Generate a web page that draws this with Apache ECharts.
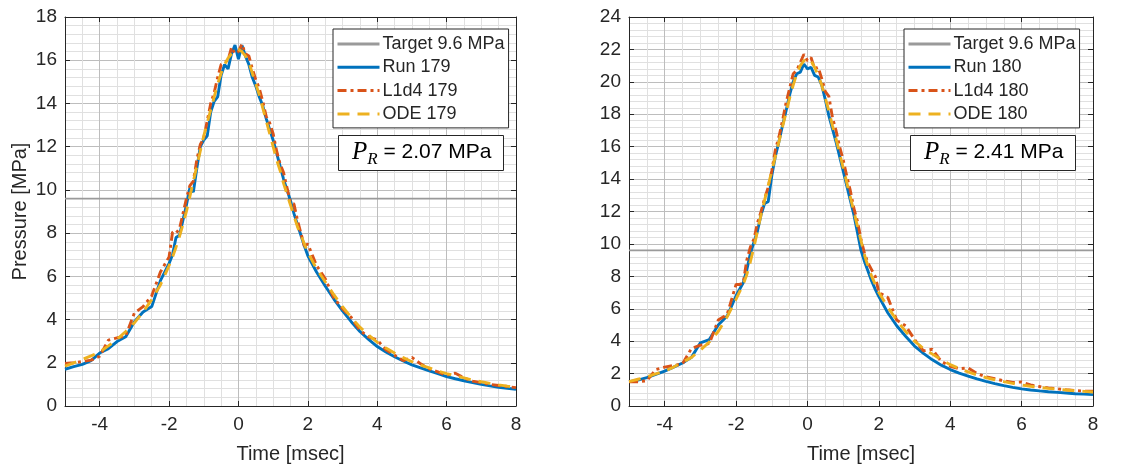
<!DOCTYPE html>
<html>
<head>
<meta charset="utf-8">
<script src="https://cdn.jsdelivr.net/npm/echarts@6/dist/echarts.min.js"></script>
<style>
  html, body { margin: 0; padding: 0; background: #ffffff; }
  #chart { width: 1146px; height: 472px; }
</style>
</head>
<body>
<div id="chart"></div>
<script>
// Sample times (msec) shared by both runs
const timeMs = [
  -5, -4.75, -4.5, -4.25, -4, -3.75, -3.5, -3.25, -3, -2.75, -2.5, -2.25,
  -2, -1.9, -1.8, -1.7, -1.6, -1.5, -1.4, -1.3, -1.2, -1.1,
  -1, -0.9, -0.8, -0.7, -0.6, -0.5, -0.4, -0.3, -0.2, -0.1,
  0, 0.1, 0.2, 0.3, 0.4, 0.5, 0.6, 0.7, 0.8, 0.9,
  1, 1.1, 1.2, 1.3, 1.4, 1.5, 1.6, 1.7, 1.8, 1.9,
  2, 2.25, 2.5, 2.75, 3, 3.25, 3.5, 3.75, 4, 4.25, 4.5, 4.75,
  5, 5.25, 5.5, 5.75, 6, 6.25, 6.5, 6.75, 7, 7.25, 7.5, 7.75, 8
];

// Run 179 pressures (MPa)
const run179 = [
  1.7, 1.82, 1.93, 2.1, 2.45, 2.65, 2.98, 3.2, 3.9, 4.35, 4.6, 5.8,
  6.6, 7.0, 7.8, 7.9, 8.6, 9.3, 10.1, 9.9, 11.0, 12.0,
  12.3, 12.5, 13.6, 14.1, 14.3, 15.3, 15.8, 15.6, 16.3, 16.7,
  16.05, 16.7, 16.2, 15.8, 15.2, 14.8, 14.3, 13.9, 13.3, 12.8,
  12.3, 11.7, 11.1, 10.5, 10.0, 9.5, 8.9, 8.4, 7.9, 7.4,
  6.95, 6.2, 5.55, 4.95, 4.4, 3.9, 3.45, 3.08, 2.75, 2.5, 2.28, 2.08,
  1.9, 1.76, 1.63, 1.5, 1.36, 1.26, 1.17, 1.08, 1.0, 0.93, 0.87, 0.82, 0.77
];
const l1d4_179 = [
  1.97, 2.0, 2.06, 2.12, 2.3, 3.05, 3.15, 3.25, 4.3, 4.6, 5.1, 6.2,
  6.9, 8.05, 8.0, 8.2, 8.9, 9.6, 10.2, 10.4, 11.4, 12.1,
  12.4, 13.2, 14.0, 14.5, 15.2, 15.8, 15.9, 16.0, 16.6, 16.3,
  16.4, 16.75, 16.3, 16.2, 15.6, 15.1, 14.7, 14.1, 13.4, 13.1,
  12.6, 11.8, 11.2, 10.8, 10.1, 9.4, 9.35, 8.6, 8.0, 7.4,
  7.5, 6.5, 5.9, 5.0, 4.5, 4.1, 3.5, 3.2, 3.05, 2.6, 2.35, 2.1,
  2.25, 1.95, 1.72, 1.58, 1.42, 1.52, 1.3, 1.15, 1.08, 1.0, 0.95, 0.9, 0.85
];
const ode179 = [
  1.85, 2.0, 2.15, 2.32, 2.5, 2.78, 3.08, 3.45, 3.85, 4.35, 4.92, 5.6,
  6.5, 6.9, 7.35, 7.85, 8.4, 9.0, 9.7, 10.4, 11.1, 11.8,
  12.5, 13.1, 13.7, 14.3, 14.9, 15.4, 15.8, 16.1, 16.3, 16.45,
  16.5, 16.4, 16.2, 15.9, 15.4, 14.9, 14.4, 13.8, 13.2, 12.6,
  12.0, 11.4, 10.9, 10.3, 9.8, 9.3, 8.8, 8.3, 7.9, 7.5,
  7.1, 6.35, 5.75, 5.15, 4.6, 4.1, 3.65, 3.28, 2.95, 2.68, 2.45, 2.24,
  2.05, 1.9, 1.76, 1.62, 1.5, 1.4, 1.3, 1.2, 1.12, 1.05, 0.98, 0.92, 0.87
];

// Run 180 pressures (MPa)
const run180 = [
  1.5, 1.6, 1.75, 1.95, 2.15, 2.4, 2.65, 3.0, 3.9, 4.1, 5.0, 5.55,
  6.8, 7.2, 7.6, 8.4, 9.4, 10.1, 10.8, 11.8, 12.5, 12.6,
  14.2, 15.4, 16.3, 17.3, 18.2, 19.2, 20.0, 20.5, 20.6, 21.1,
  20.8, 20.9, 20.4, 20.3, 19.8, 18.9, 17.9, 17.1, 16.3, 15.4,
  14.5, 13.6, 12.7, 11.8, 10.7, 9.6, 8.9, 8.3, 7.7, 7.2,
  6.75, 5.75, 4.95, 4.3, 3.7, 3.25, 2.85, 2.52, 2.25, 2.03, 1.85, 1.67,
  1.52, 1.38, 1.26, 1.15, 1.06, 0.99, 0.93, 0.88, 0.84, 0.8, 0.76, 0.73, 0.7
];
const l1d4_180 = [
  1.5, 1.5, 1.55, 2.25, 2.4, 2.5, 2.6, 3.55, 3.75, 3.85, 5.3, 5.65,
  7.5, 7.5, 7.6, 9.0, 9.8, 10.3, 11.3, 12.0, 12.8, 13.5,
  14.5, 15.8, 16.6, 17.6, 18.7, 19.6, 20.5, 20.7, 21.2, 21.7,
  21.3, 21.5, 20.8, 20.9, 20.2, 19.4, 19.1, 17.8, 17.0, 16.0,
  15.2, 14.2, 13.3, 12.2, 11.4, 10.3, 9.4, 8.8, 8.4, 8.0,
  7.0, 6.7, 5.3, 4.95, 4.1, 3.4, 3.5, 2.75, 2.45, 2.3, 2.35, 2.0,
  1.8, 1.68, 1.55, 1.45, 1.48, 1.3, 1.2, 1.12, 1.06, 1.0, 0.96, 0.92, 0.92
];
const ode180 = [
  1.5, 1.65, 1.8, 1.98, 2.15, 2.4, 2.7, 3.0, 3.45, 3.95, 4.6, 5.5,
  6.6, 7.05, 7.5, 8.1, 8.9, 9.8, 10.8, 11.8, 12.7, 13.6,
  14.5, 15.4, 16.3, 17.2, 18.1, 19.0, 19.8, 20.5, 21.0, 21.3,
  21.45, 21.3, 20.9, 20.4, 19.8, 19.0, 18.2, 17.3, 16.5, 15.6,
  14.7, 13.8, 12.9, 12.0, 11.1, 10.2, 9.3, 8.6, 8.0, 7.5,
  7.0, 6.1, 5.3, 4.6, 4.0, 3.55, 3.2, 2.85, 2.55, 2.32, 2.1, 1.92,
  1.75, 1.62, 1.5, 1.4, 1.3, 1.22, 1.15, 1.09, 1.04, 0.99, 0.94, 0.9, 0.86
];

const targetMPa = 9.6;
const timeRange = [-5, 8];
const pressureMax = [18, 24];
const runIds = ['179', '180'];
const prValues = ['2.07', '2.41'];

const FONT = '"Liberation Sans", Arial, Helvetica, sans-serif';
const SERIF = '"Liberation Serif", "Times New Roman", serif';
const INK = '#262626';
const MAJOR = '#bdbdbd';
const MINOR = '#e0e0e0';
const C_RUN = '#0072BD', C_L1D4 = '#D95319', C_ODE = '#EDB120', C_TARGET = '#9a9a9a';

const panels = [
  { left: 65, width: 451, runs: [run179, l1d4_179, ode179] },
  { left: 629, width: 464, runs: [run180, l1d4_180, ode180] }
];
const TOP = 17, HEIGHT = 389;

const grid = [], xAxis = [], yAxis = [], series = [], legend = [], title = [];

panels.forEach((p, k) => {
  grid.push({ left: p.left, top: TOP, width: p.width, height: HEIGHT, containLabel: false });
  const id = runIds[k];

  // bottom axis with labels and grid, top axis as the frame
  xAxis.push({
    type: 'value', gridIndex: k, min: timeRange[0], max: timeRange[1], splitNumber: 6,
    name: 'Time [msec]', nameLocation: 'middle', nameGap: 38,
    nameTextStyle: { fontFamily: FONT, fontSize: 20, color: INK },
    axisLine: { show: true, onZero: false, lineStyle: { color: INK, width: 1 } },
    axisTick: { show: true, inside: true, length: 5, lineStyle: { color: INK } },
    axisLabel: { fontFamily: FONT, fontSize: 19, color: INK, margin: 9, showMinLabel: false },
    splitLine: { show: true, lineStyle: { color: MAJOR, width: 1 } },
    minorTick: { show: false, splitNumber: 4 },
    minorSplitLine: { show: true, lineStyle: { color: MINOR, width: 1 } }
  });
  xAxis.push({
    type: 'value', gridIndex: k, position: 'top', min: timeRange[0], max: timeRange[1], splitNumber: 6,
    axisLine: { show: true, onZero: false, lineStyle: { color: INK, width: 1 } },
    axisTick: { show: true, inside: true, length: 5, lineStyle: { color: INK } },
    axisLabel: { show: false }, splitLine: { show: false }
  });
  yAxis.push({
    type: 'value', gridIndex: k, min: 0, max: pressureMax[k], interval: 2,
    name: k === 0 ? 'Pressure [MPa]' : '', nameLocation: 'middle', nameGap: 35,
    nameTextStyle: { fontFamily: FONT, fontSize: 20, color: INK },
    axisLine: { show: true, onZero: false, lineStyle: { color: INK, width: 1 } },
    axisTick: { show: true, inside: true, length: 5, lineStyle: { color: INK } },
    axisLabel: { fontFamily: FONT, fontSize: 19, color: INK, margin: 8 },
    splitLine: { show: true, lineStyle: { color: MAJOR, width: 1 } },
    minorTick: { show: false, splitNumber: 5 },
    minorSplitLine: { show: true, lineStyle: { color: MINOR, width: 1 } }
  });
  yAxis.push({
    type: 'value', gridIndex: k, position: 'right', min: 0, max: pressureMax[k], interval: 2,
    axisLine: { show: true, onZero: false, lineStyle: { color: INK, width: 1 } },
    axisTick: { show: true, inside: true, length: 5, lineStyle: { color: INK } },
    axisLabel: { show: false }, splitLine: { show: false }
  });

  const xi = k * 2, yi = k * 2;
  const names = ['Target 9.6 MPa', 'Run ' + id, 'L1d4 ' + id, 'ODE ' + id];
  series.push({
    name: names[0], type: 'line', xAxisIndex: xi, yAxisIndex: yi, symbol: 'none', silent: true,
    lineStyle: { color: C_TARGET, width: 1.7 }, itemStyle: { color: C_TARGET },
    data: [[timeRange[0], targetMPa], [timeRange[1], targetMPa]]
  });
  const styles = [
    { color: C_RUN, width: 2.9, type: 'solid' },
    { color: C_L1D4, width: 2.9, type: [9, 4, 3, 4] },
    { color: C_ODE, width: 2.9, type: [12, 8] }
  ];
  p.runs.forEach((vals, j) => {
    series.push({
      name: names[j + 1], type: 'line', xAxisIndex: xi, yAxisIndex: yi, symbol: 'none',
      silent: true, animation: false,
      lineStyle: styles[j], itemStyle: { color: styles[j].color },
      data: timeMs.map((t, i) => [t, vals[i]])
    });
  });

  legend.push({
    left: k === 0 ? 333 : 904, top: 29, orient: 'vertical', selectedMode: false,
    itemWidth: 42, itemHeight: 14, itemGap: 3.3,
    padding: [5, 4, 4, 3],
    backgroundColor: '#ffffff', borderColor: INK, borderWidth: 1,
    itemStyle: { opacity: 0 },
    lineStyle: { width: 3 },
    textStyle: { fontFamily: FONT, fontSize: 18, color: INK, lineHeight: 20, padding: [0, 0, 0, -2] },
    data: names.map(n => ({ name: n }))
  });

  title.push({
    left: k === 0 ? 338 : 910, top: 132,
    text: '{p|P}{s|R}{n| = ' + prValues[k] + ' MPa}',
    padding: [4, 12, 3, 14],
    backgroundColor: '#ffffff', borderColor: INK, borderWidth: 1,
    textStyle: {
      fontWeight: 'normal',
      rich: {
        p: { fontFamily: SERIF, fontStyle: 'italic', fontWeight: 'normal', fontSize: 25, color: '#000', lineHeight: 32, verticalAlign: 'middle' },
        s: { fontFamily: SERIF, fontStyle: 'italic', fontWeight: 'normal', fontSize: 17, color: '#000', lineHeight: 17, verticalAlign: 'bottom' },
        n: { fontFamily: FONT, fontWeight: 'normal', fontSize: 21, color: '#000', lineHeight: 32, verticalAlign: 'middle' }
      }
    }
  });
});

const chart = echarts.init(document.getElementById('chart'), null, { renderer: 'canvas' });
chart.setOption({
  animation: false,
  backgroundColor: '#ffffff',
  grid, xAxis, yAxis, series, legend, title
});
</script>
</body>
</html>
